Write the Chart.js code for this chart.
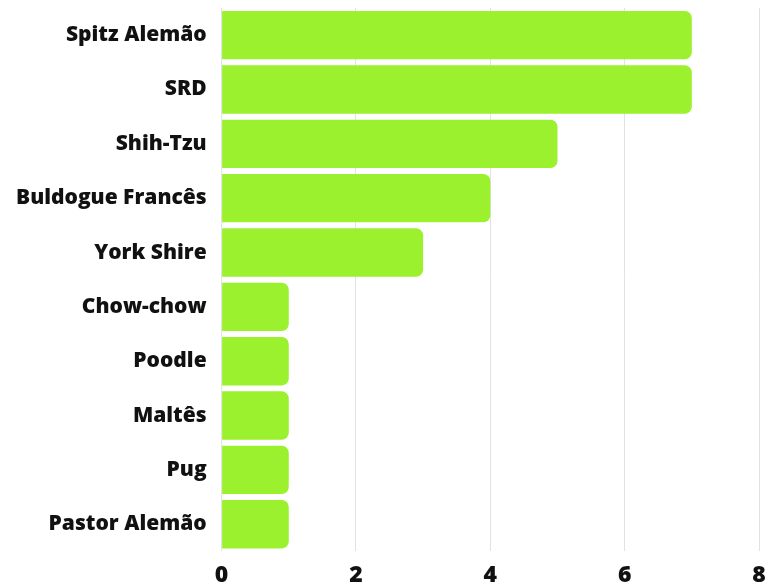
<!DOCTYPE html>
<html>
<head>
<meta charset="utf-8">
<script src="https://cdn.jsdelivr.net/npm/chart.js@4/dist/chart.umd.min.js"></script>
<style>
  html, body { margin: 0; padding: 0; background: #fff; }
  #wrap { width: 768px; height: 583px; }
</style>
</head>
<body>
<div id="wrap"><canvas id="chart"></canvas></div>
<script>
const breeds = [
  'Spitz Alemão',
  'SRD',
  'Shih-Tzu',
  'Buldogue Francês',
  'York Shire',
  'Chow-chow',
  'Poodle',
  'Maltês',
  'Pug',
  'Pastor Alemão'
];
const counts = [7, 7, 5, 4, 3, 1, 1, 1, 1, 1];
const xTicks = [0, 2, 4, 6, 8];

const labelFont = { family: '"Open Sans", sans-serif', size: 21, weight: '800' };
const tickFont = { family: '"Open Sans", sans-serif', size: 23, weight: '800' };

const data = {
  labels: breeds,
  datasets: [{
    data: counts,
    backgroundColor: '#9cf12e',
    borderWidth: 0,
    borderSkipped: false,
    borderRadius: { topLeft: 0, bottomLeft: 0, topRight: 7, bottomRight: 7 },
    barPercentage: 0.89,
    categoryPercentage: 1
  }]
};

const config = {
  type: 'bar',
  data: data,
  options: {
    indexAxis: 'y',
    responsive: true,
    maintainAspectRatio: false,
    animation: false,
    layout: { padding: { top: 8, right: 0, bottom: -16, left: 1 } },
    plugins: {
      legend: { display: false },
      tooltip: { enabled: false }
    },
    scales: {
      x: {
        min: 0,
        max: 8,
        afterBuildTicks: axis => { axis.ticks = xTicks.map(v => ({ value: v })); },
        afterFit: axis => { axis.paddingLeft = 0; axis.paddingRight = 9; },
        grid: { color: '#e2e2e2', lineWidth: 1, drawTicks: false },
        border: { display: false },
        ticks: { color: '#111', font: tickFont, padding: 10 }
      },
      y: {
        afterFit: axis => { axis.paddingTop = 0; axis.paddingBottom = 0; },
        grid: { display: false, drawTicks: false },
        border: { display: false },
        ticks: { color: '#111', font: labelFont, padding: 15 }
      }
    }
  }
};

new Chart(document.querySelector('#chart'), config);
</script>
</body>
</html>
